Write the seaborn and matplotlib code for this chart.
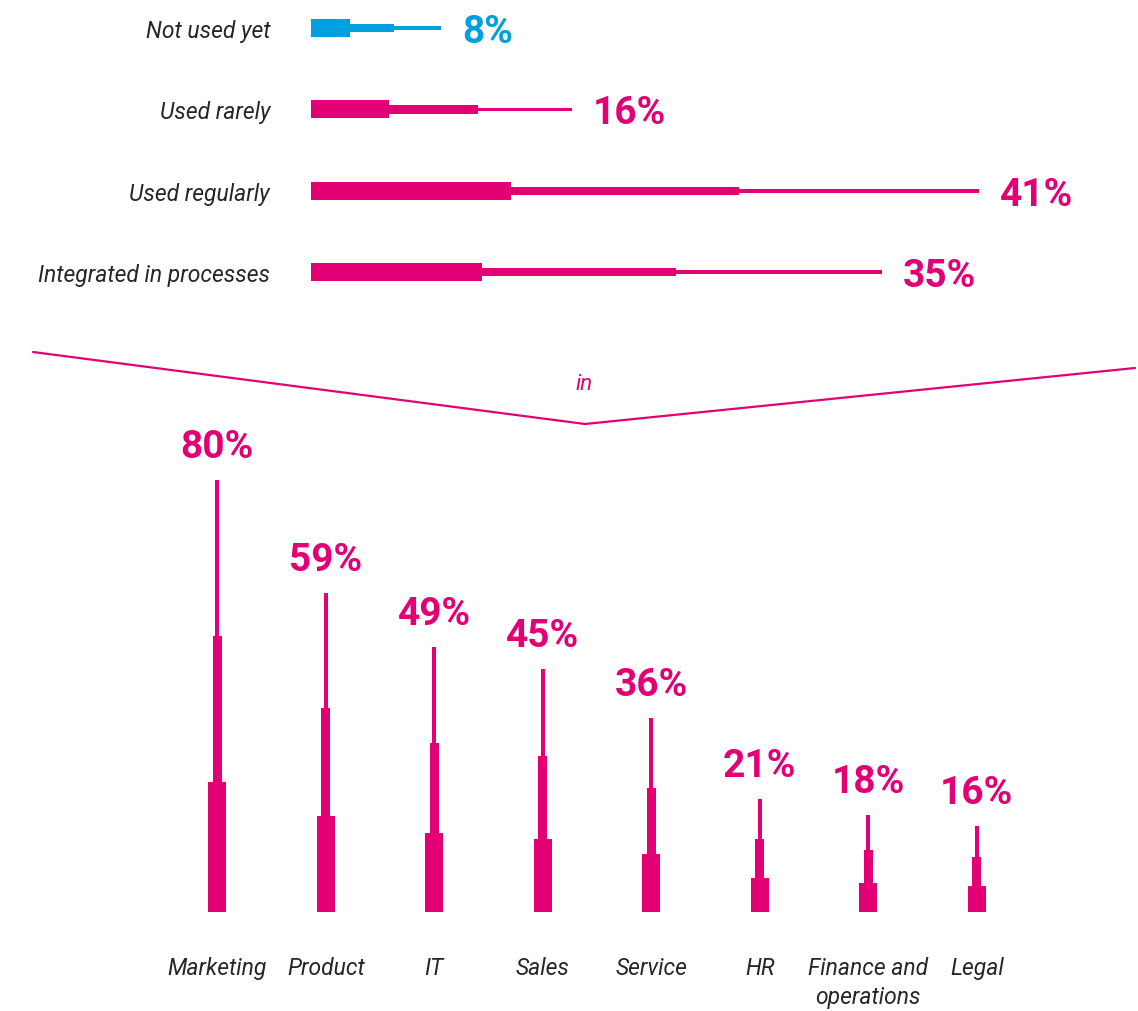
import matplotlib.pyplot as plt
import seaborn as sns
import numpy as np

# data
usage_labels = ["Not used yet", "Used rarely", "Used regularly", "Integrated in processes"]
usage_values = [8, 16, 41, 35]
dept_labels = ["Marketing", "Product", "IT", "Sales", "Service", "HR",
               "Finance and\noperations", "Legal"]
dept_values = [80, 59, 49, 45, 36, 21, 18, 16]

MAGENTA = "#E20074"
BLUE = "#00A0DE"
TEXT = "#262626"
usage_colors = [BLUE, MAGENTA, MAGENTA, MAGENTA]

# share of each bar drawn thick / medium / thin (tapered look)
SEG = np.array([0.30, 0.34, 0.36])

sns.set_theme(style="white")
plt.rcParams['font.family'] = ['Roboto', 'DejaVu Sans']

W, H = 1138, 1012
fig = plt.figure(figsize=(W / 100, H / 100), dpi=100)

# ---- top: usage level, horizontal tapered bars ----
ax_top = fig.add_axes([311 / W, 1 - 322 / H, (W - 311) / W, 322 / H])
uv = np.array(usage_values, dtype=float)
thick, medium, thin = uv * SEG[0], uv * SEG[1], uv * SEG[2]
pos = np.arange(len(usage_labels))

sns.barplot(x=thick, y=usage_labels, hue=usage_labels, palette=usage_colors,
            saturation=1, width=0.22, legend=False, orient="h", linewidth=0,
            ax=ax_top)
ax_top.barh(pos, medium, left=thick, height=0.105, color=usage_colors, linewidth=0)
ax_top.barh(pos, thin, left=thick + medium, height=0.045, color=usage_colors,
            linewidth=0)

for i, (v, c) in enumerate(zip(usage_values, usage_colors)):
    ax_top.annotate(f"{v}%", xy=(v, i), xytext=(21, -14), textcoords="offset pixels",
                    ha="left", va="baseline", fontsize=28, fontweight="bold", color=c)

ax_top.set_xlim(0, (W - 311) / 16.3)
ax_top.set_ylim(3.6, -0.357)
ax_top.set_yticks(pos)
ax_top.set_yticklabels(usage_labels, fontstyle="italic", fontsize=16.5, color=TEXT)
ax_top.tick_params(axis="y", length=0, pad=29.5)
ax_top.set_xticks([])
ax_top.set_xlabel("")
ax_top.set_ylabel("")
sns.despine(ax=ax_top, left=True, bottom=True)

# ---- connector ----
fig.add_artist(plt.Line2D([33 / W, 585 / W, 1135 / W],
                          [1 - 353 / H, 1 - 425 / H, 1 - 369 / H],
                          color=MAGENTA, lw=1.6, transform=fig.transFigure))
fig.text(584 / W, 1 - 385 / H, "in", ha="center", va="center",
         fontstyle="italic", fontsize=16, color=MAGENTA)

# ---- bottom: departments, vertical tapered bars ----
ax_bot = fig.add_axes([163 / W, 1 - 913 / H, (1031 - 163) / W, 486 / H])
dv = np.array(dept_values, dtype=float)
d_thick, d_medium, d_thin = dv * SEG[0], dv * SEG[1], dv * SEG[2]
dpos = np.arange(len(dept_labels))

sns.barplot(x=dept_labels, y=d_thick, color=MAGENTA, saturation=1,
            width=0.165, linewidth=0, ax=ax_bot)
ax_bot.bar(dpos, d_medium, bottom=d_thick, width=0.083, color=MAGENTA, linewidth=0)
ax_bot.bar(dpos, d_thin, bottom=d_thick + d_medium, width=0.037, color=MAGENTA,
           linewidth=0)

for i, v in enumerate(dept_values):
    ax_bot.annotate(f"{v}%", xy=(i, v), xytext=(0, 23), textcoords="offset pixels",
                    ha="center", va="baseline", fontsize=28, fontweight="bold",
                    color=MAGENTA)

ax_bot.set_xlim(-0.5, 7.5)
ax_bot.set_ylim(0, 90)
ax_bot.set_xticks(dpos)
ax_bot.set_xticklabels(dept_labels, fontstyle="italic", fontsize=16.5, color=TEXT,
                       linespacing=1.3)
ax_bot.tick_params(axis="x", length=0, pad=32)
ax_bot.set_yticks([])
ax_bot.set_xlabel("")
ax_bot.set_ylabel("")
sns.despine(ax=ax_bot, left=True, bottom=True)

fig.savefig("out.png", dpi=100)
plt.close(fig)
